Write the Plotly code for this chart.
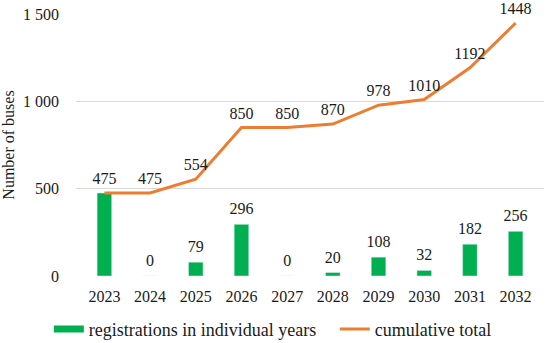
import plotly.graph_objects as go

years = ["2023", "2024", "2025", "2026", "2027", "2028", "2029", "2030", "2031", "2032"]
registrations = [475, 0, 79, 296, 0, 20, 108, 32, 182, 256]
cumulative = [475, 475, 554, 850, 850, 870, 978, 1010, 1192, 1448]
y_ticks = [0, 500, 1000, 1500]
y_tick_labels = ["0", "500", "1 000", "1 500"]

FONT = "Liberation Serif, Times New Roman, serif"
FS = 16
GREEN = "#00B050"
ORANGE = "#ED7D31"
TXT = "#1a1a1a"
CLEAR = "rgba(0,0,0,0)"
# the 2023 bar label coincides with the line label of the same value (shown once)
bar_text = ["" if (r == c) else str(r) for r, c in zip(registrations, cumulative)]

fig = go.Figure()
fig.add_trace(go.Bar(
    x=years, y=registrations, name="registrations in individual years",
    marker_color=GREEN, width=0.32, showlegend=False,
))
# bar value labels
fig.add_trace(go.Scatter(
    x=years, y=registrations, mode="markers+text", showlegend=False,
    marker=dict(size=8, color=CLEAR), hoverinfo="skip",
    text=bar_text, textposition="top center",
    textfont=dict(family=FONT, size=FS, color=TXT), cliponaxis=False,
))
fig.add_trace(go.Scatter(
    x=years, y=cumulative, name="cumulative total", mode="lines+markers+text",
    line=dict(color=ORANGE, width=3), marker=dict(size=6, color=CLEAR),
    text=[str(v) for v in cumulative], textposition="top center",
    textfont=dict(family=FONT, size=FS, color=TXT), cliponaxis=False,
    showlegend=False,
))
# legend entries
fig.add_trace(go.Scatter(
    x=[None], y=[None], mode="lines", name="registrations in individual years",
    line=dict(color=GREEN, width=7), legend="legend",
))
fig.add_trace(go.Scatter(
    x=[None], y=[None], mode="lines", name="cumulative total",
    line=dict(color=ORANGE, width=3), legend="legend2",
))
leg_common = dict(orientation="h", xanchor="left", yref="container", y=0.04,
                  yanchor="middle", font=dict(family=FONT, size=18, color=TXT),
                  itemwidth=30, bgcolor=CLEAR)
fig.update_layout(
    width=550, height=343,
    margin=dict(l=76, r=6, t=14, b=67),
    paper_bgcolor="white", plot_bgcolor="white",
    font=dict(family=FONT, size=FS, color=TXT),
    showlegend=True,
    legend=dict(x=-0.058, **leg_common),
    legend2=dict(x=0.553, **leg_common),
)
fig.update_xaxes(showgrid=False, showline=False, ticks="", tickfont=dict(size=FS),
                 automargin=False, ticklabelstandoff=9)
fig.update_yaxes(range=[0, 1500], tickvals=y_ticks, ticktext=y_tick_labels,
                 showgrid=True, gridcolor="#D9D9D9", gridwidth=1, zeroline=False,
                 showline=False, ticks="", ticklabelstandoff=16, automargin=False,
                 title=dict(text="Number of buses", font=dict(size=FS), standoff=12),
                 tickfont=dict(size=FS))
fig.write_html("out.html", config={"displayModeBar": False},
               post_script="document.body.style.margin='0';")
